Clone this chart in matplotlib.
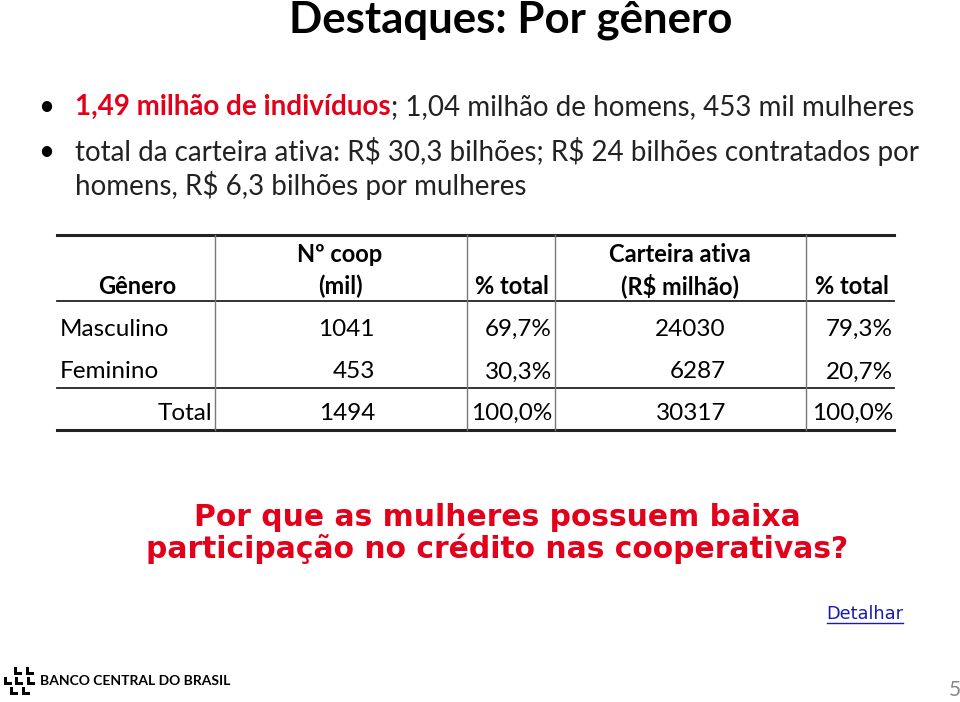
import matplotlib.pyplot as plt
from matplotlib.patches import Polygon

plt.rcParams['text.parse_math'] = False

# table data
generos = ['Masculino', 'Feminino', 'Total']
n_coop = [1041, 453, 1494]
pct_coop = ['69,7%', '30,3%', '100,0%']
carteira = [24030, 6287, 30317]
pct_carteira = ['79,3%', '20,7%', '100,0%']

title = 'Destaques: Por gênero'
bullet1_red = '1,49 milhão de indivíduos'
bullet1_rest = '; 1,04 milhão de homens, 453 mil mulheres'
bullet2 = ['total da carteira ativa: R$ 30,3 bilhões; R$ 24 bilhões contratados por',
           'homens, R$ 6,3 bilhões por mulheres']
question = ['Por que as mulheres possuem baixa',
            'participação no crédito nas cooperativas?']

FONT = 'Lato'
RED = '#E2001A'


def main():
    fig = plt.figure(figsize=(9.6, 7.02), dpi=100)
    ax = fig.add_axes([0, 0, 1, 1])
    ax.set_xlim(0, 960)
    ax.set_ylim(702, 0)
    ax.axis('off')

    # title
    ax.text(511, 20, title, fontsize=31.5, fontweight='bold', family=FONT,
            ha='center', va='center', color='black')

    # bullets
    bs = 20
    ax.text(38, 107, '•', fontsize=bs, family=FONT, va='center')
    t = ax.text(75, 107, bullet1_red, fontsize=bs, family=FONT, fontweight='bold',
                color=RED, va='center')
    fig.canvas.draw()
    bb = t.get_window_extent()
    ax.text(75 + bb.width, 107, bullet1_rest, fontsize=bs, family=FONT,
            color='#222222', va='center')
    ax.text(38, 152, '•', fontsize=bs, family=FONT, va='center')
    ax.text(75, 152, bullet2[0], fontsize=bs, family=FONT, color='#222222', va='center')
    ax.text(75, 186, bullet2[1], fontsize=bs, family=FONT, color='#222222', va='center')

    # table lines
    x0, x1 = 57, 894
    ax.plot([x0, x1], [235, 235], color='#222222', lw=2.2)
    ax.plot([x0, x1], [301, 301], color='#222222', lw=1.3)
    ax.plot([x0, x1], [388, 388], color='#222222', lw=1.3)
    ax.plot([x0, x1], [430, 430], color='#222222', lw=2.2)
    for xv in [215, 467, 555, 806]:
        ax.plot([xv, xv], [235, 430], color='#777777', lw=1.0)

    # headers
    hs = 17
    ax.text(137, 286, 'Gênero', fontsize=hs, fontweight='bold', family=FONT,
            ha='center', va='center')
    ax.text(340, 254, 'Nº coop', fontsize=hs, fontweight='bold', family=FONT,
            ha='center', va='center')
    ax.text(340, 286, '(mil)', fontsize=hs, fontweight='bold', family=FONT,
            ha='center', va='center')
    ax.text(549, 286, '% total', fontsize=hs, fontweight='bold', family=FONT,
            ha='right', va='center')
    ax.text(680, 254, 'Carteira ativa', fontsize=hs, fontweight='bold', family=FONT,
            ha='center', va='center')
    ax.text(680, 286, '(R$ milhão)', fontsize=hs, fontweight='bold', family=FONT,
            ha='center', va='center')
    ax.text(889, 286, '% total', fontsize=hs, fontweight='bold', family=FONT,
            ha='right', va='center')

    # rows
    rs = 17.5
    row_y = [329, 372, 413]
    for i, g in enumerate(generos):
        y = row_y[i]
        if g == 'Total':
            ax.text(212, y, g, fontsize=rs, family=FONT, ha='right', va='center')
        else:
            ax.text(60, y, g, fontsize=rs, family=FONT, ha='left', va='center')
        ax.text(375, y, str(n_coop[i]), fontsize=rs, family=FONT, ha='right', va='center')
        ax.text(552, y, pct_coop[i], fontsize=rs, family=FONT, ha='right', va='center')
        ax.text(726, y, str(carteira[i]), fontsize=rs, family=FONT, ha='right', va='center')
        ax.text(893, y, pct_carteira[i], fontsize=rs, family=FONT, ha='right', va='center')

    # question
    ax.text(497, 517, question[0], fontsize=21.4, fontweight='bold', family='DejaVu Sans',
            color=RED, ha='center', va='center')
    ax.text(497, 549, question[1], fontsize=21.4, fontweight='bold', family='DejaVu Sans',
            color=RED, ha='center', va='center')

    # link
    ax.text(865, 614, 'Detalhar', fontsize=12.8, family='DejaVu Sans', color='#1A1AB0',
            ha='center', va='center')
    ax.plot([827, 903], [623, 623], color='#1A1AB0', lw=1)

    # logo
    for dx, dy in [(12, 0), (24, 0), (2, 10), (13, 10), (25, 10), (8, 20), (20, 20)]:
        bx, by = 2 + dx, 667 + dy
        ax.add_patch(Polygon([[bx, by], [bx + 2.5, by], [bx + 2.5, by + 5], [bx + 8, by + 5],
                              [bx + 8, by + 8], [bx, by + 8]], closed=True,
                             color='black', lw=0))
    ax.text(40, 681, 'BANCO CENTRAL DO BRASIL', fontsize=10, fontweight='bold',
            family=FONT, va='center')

    ax.text(955, 690, '5', fontsize=15, family=FONT, color='#888888',
            ha='center', va='center')

    fig.savefig('out.png', dpi=100)


if __name__ == '__main__':
    main()
